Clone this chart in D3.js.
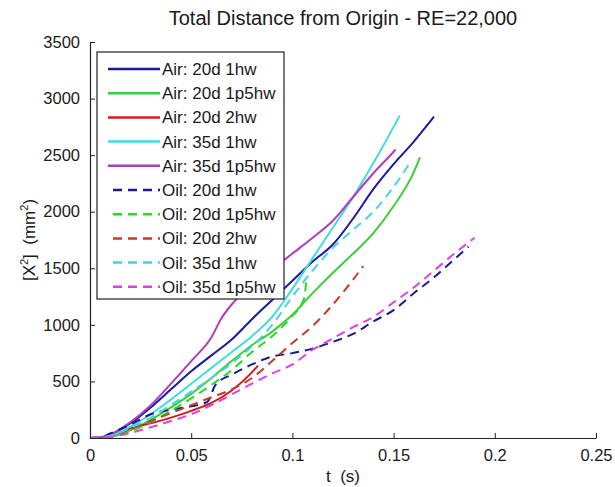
<!DOCTYPE html>
<html>
<head>
<meta charset="utf-8">
<script src="https://cdn.jsdelivr.net/npm/d3@7"></script>
<style>
  body { margin: 0; background: #fff; }
  text { font-family: "Liberation Sans", Arial, sans-serif; fill: #1a1a1a; }
</style>
</head>
<body>
<script>
const w = 615;
const h = 487;

// series names (legend order)
var seriesNames = ["Air: 20d 1hw", "Air: 20d 1p5hw", "Air: 20d 2hw", "Air: 35d 1hw", "Air: 35d 1p5hw",
                   "Oil: 20d 1hw", "Oil: 20d 1p5hw", "Oil: 20d 2hw", "Oil: 35d 1hw", "Oil: 35d 1p5hw"];

// [t (s), X^2 (mm^2)]
var air20d1hw = [[0,0],[0.005,2],[0.01,30],[0.02,130],[0.03,270],[0.04,430],[0.05,590],[0.06,730],[0.07,870],
  [0.08,1050],[0.09,1220],[0.1,1390],[0.11,1560],[0.12,1710],[0.13,1940],[0.14,2200],[0.15,2420],[0.16,2620],[0.17,2840]];
var air20d1p5hw = [[0,0],[0.01,10],[0.02,70],[0.03,160],[0.04,270],[0.05,390],[0.06,530],[0.07,680],[0.08,820],
  [0.09,940],[0.1,1090],[0.11,1280],[0.12,1460],[0.13,1630],[0.14,1810],[0.15,2050],[0.16,2350],[0.163,2480]];
var air20d2hw = [[0,0],[0.01,20],[0.02,85],[0.03,130],[0.04,180],[0.05,240],[0.06,310],[0.07,420],[0.08,580],[0.083,640]];
var air35d1hw = [[0,0],[0.01,20],[0.02,100],[0.03,210],[0.04,340],[0.05,480],[0.06,620],[0.07,760],[0.08,900],
  [0.09,1070],[0.1,1320],[0.11,1590],[0.12,1860],[0.13,2130],[0.14,2430],[0.15,2750],[0.153,2850]];
var air35d1p5hw = [[0,0],[0.005,5],[0.01,30],[0.02,140],[0.03,290],[0.04,480],[0.05,680],[0.06,890],[0.065,1060],
  [0.07,1180],[0.08,1350],[0.09,1490],[0.1,1630],[0.11,1770],[0.12,1920],[0.13,2130],[0.14,2340],[0.15,2530],[0.151,2550]];
var oil20d1hw = [[0,0],[0.005,5],[0.01,40],[0.02,120],[0.03,210],[0.04,250],[0.05,280],[0.058,320],[0.062,470],
  [0.07,560],[0.08,650],[0.09,720],[0.1,750],[0.11,790],[0.12,850],[0.13,920],[0.14,1030],[0.15,1130],
  [0.16,1280],[0.17,1420],[0.18,1580],[0.187,1690]];
var oil20d1p5hw = [[0,0],[0.01,10],[0.02,60],[0.03,140],[0.04,240],[0.05,350],[0.06,470],[0.07,600],[0.08,760],
  [0.09,900],[0.1,1080],[0.105,1200],[0.106,1250],[0.107,1430]];
var oil20d2hw = [[0,0],[0.01,15],[0.02,80],[0.03,150],[0.04,220],[0.05,290],[0.06,360],[0.07,430],[0.08,530],
  [0.09,680],[0.1,840],[0.11,990],[0.12,1180],[0.13,1400],[0.135,1520]];
var oil35d1hw = [[0,0],[0.01,20],[0.02,90],[0.03,180],[0.04,290],[0.05,410],[0.06,530],[0.07,660],[0.08,810],
  [0.09,1000],[0.1,1250],[0.11,1480],[0.12,1680],[0.13,1840],[0.14,2000],[0.15,2220],[0.158,2430]];
var oil35d1p5hw = [[0,0],[0.01,10],[0.02,45],[0.03,95],[0.04,150],[0.05,210],[0.06,290],[0.07,385],[0.08,480],
  [0.09,570],[0.1,650],[0.11,780],[0.12,880],[0.13,980],[0.14,1070],[0.15,1200],[0.16,1330],[0.17,1480],
  [0.18,1630],[0.19,1770]];

var xTicks = [0, 0.05, 0.1, 0.15, 0.2, 0.25];
var xTickLabels = ["0", "0.05", "0.1", "0.15", "0.2", "0.25"];
var yTicks = [0, 500, 1000, 1500, 2000, 2500, 3000, 3500];

var allSeries = [air20d1hw, air20d1p5hw, air20d2hw, air35d1hw, air35d1p5hw,
                 oil20d1hw, oil20d1p5hw, oil20d2hw, oil35d1hw, oil35d1p5hw];

var colors = ["#1a1aa0", "#3ccc3c", "#cc2020", "#40dcdc", "#b03cc0",
              "#1a1a8c", "#22dd22", "#c83a28", "#48d2e0", "#e040e0"];

const plotLeft = 90, plotRight = 596, plotTop = 42, plotBottom = 438;

const x = d3.scaleLinear().domain([0, 0.25]).range([plotLeft, plotRight]);
const y = d3.scaleLinear().domain([0, 3500]).range([plotBottom, plotTop]);

const svg = d3.select("body")
  .append("svg")
  .attr("width", w)
  .attr("height", h);

// curves
const line = d3.line().x(d => x(d[0])).y(d => y(d[1])).curve(d3.curveMonotoneX);
svg.append("g")
  .selectAll("path")
  .data(allSeries)
  .enter()
  .append("path")
  .attr("d", line)
  .attr("fill", "none")
  .attr("stroke", (d, i) => colors[i])
  .attr("stroke-width", 2)
  .attr("stroke-dasharray", (d, i) => i >= 5 ? "9,6" : null);

// axes, matlab style (ticks pointing in)
const xAxis = d3.axisBottom(x).tickValues(xTicks).tickFormat((d, i) => xTickLabels[i])
  .tickSizeInner(-5).tickSizeOuter(0).tickPadding(11);
const gx = svg.append("g").attr("transform", "translate(0," + plotBottom + ")").call(xAxis);

const yAxis = d3.axisLeft(y).tickValues(yTicks).tickFormat(d3.format("d"))
  .tickSizeInner(-5).tickSizeOuter(0).tickPadding(10);
const gy = svg.append("g").attr("transform", "translate(" + plotLeft + ",0)").call(yAxis);

[gx, gy].forEach(g => {
  g.select(".domain").attr("stroke", "#222").attr("stroke-width", 1.2);
  g.selectAll(".tick line").attr("stroke", "#222");
  g.selectAll(".tick text")
    .style("font-size", "16.5px")
    .style("font-family", "'Liberation Sans', Arial, sans-serif")
    .attr("fill", "#1a1a1a");
});

// title
svg.append("text")
  .attr("x", (plotLeft + plotRight) / 2)
  .attr("y", 25)
  .attr("text-anchor", "middle")
  .style("font-size", "20px")
  .text("Total Distance from Origin - RE=22,000");

// x label
svg.append("text")
  .attr("x", (plotLeft + plotRight) / 2)
  .attr("y", 482)
  .attr("text-anchor", "middle")
  .style("font-size", "17px")
  .style("white-space", "pre")
  .text("t  (s)");

// y label with superscripts
const yl = svg.append("text")
  .attr("transform", "translate(35,240) rotate(-90)")
  .attr("text-anchor", "middle")
  .style("font-size", "17px")
  .style("white-space", "pre");
yl.append("tspan").text("[X");
yl.append("tspan").attr("dy", -7).style("font-size", "11px").text("2");
yl.append("tspan").attr("dy", 7).text("]  (mm");
yl.append("tspan").attr("dy", -7).style("font-size", "11px").text("2");
yl.append("tspan").attr("dy", 7).text(")");

// legend
const legX = 97, legY = 52, legW = 187, legH = 247, rowH = 24.2;
const leg = svg.append("g");
leg.append("rect")
  .attr("x", legX).attr("y", legY)
  .attr("width", legW).attr("height", legH)
  .attr("fill", "#fff")
  .attr("stroke", "#222")
  .attr("stroke-width", 1.2);

const items = leg.selectAll("g.item")
  .data(seriesNames)
  .enter()
  .append("g")
  .attr("class", "item")
  .attr("transform", (d, i) => "translate(0," + (legY + 17 + i * rowH) + ")");

items.append("line")
  .attr("x1", 108).attr("x2", 160)
  .attr("y1", 0).attr("y2", 0)
  .attr("stroke", (d, i) => colors[i])
  .attr("stroke-width", 2.5)
  .attr("stroke-dasharray", (d, i) => i >= 5 ? "9,6" : null)
  .attr("stroke-dashoffset", (d, i) => i >= 5 ? -5 : null);

items.append("text")
  .attr("x", 162)
  .attr("y", 6)
  .style("font-size", "17px")
  .text(d => d);
</script>
</body>
</html>
